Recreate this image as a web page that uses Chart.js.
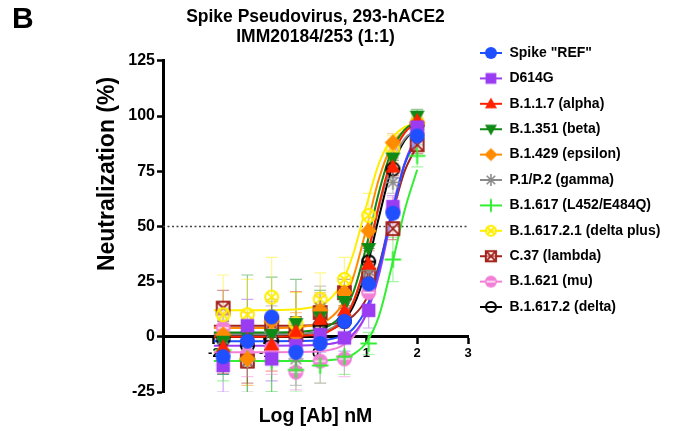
<!DOCTYPE html>
<html>
<head>
<meta charset="utf-8">
<script src="https://cdn.jsdelivr.net/npm/chart.js@4.4.1/dist/chart.umd.min.js"></script>
<style>
  html, body { margin: 0; padding: 0; background: #fff; }
</style>
</head>
<body>
<canvas id="chart" width="687" height="431"></canvas>
<script>
// Text
const panelLabel = "B";
const titleLines = ["Spike Pseudovirus, 293-hACE2", "IMM20184/253 (1:1)"];
const xTitle = "Log [Ab] nM";
const yTitle = "Neutralization (%)";

// Axes
const xRange = [-3, 3];
const yRange = [-25, 125];
const xTicks = [-2, -1, 0, 1, 2, 3];
const yTicks = [-25, 0, 25, 50, 75, 100, 125];
const halfMax = 50;

// 3-fold dilutions, log10 nM
const logDose = [-1.817, -1.340, -0.863, -0.385, 0.092, 0.569, 1.046, 1.523, 2.0];
const fitDose = [-2, -1, 0, 0.25, 0.5, 0.75, 1, 1.25, 1.5, 1.75, 2];

const seriesNames = ['Spike "REF"', "D614G", "B.1.1.7 (alpha)", "B.1.351 (beta)",
  "B.1.429 (epsilon)", "P.1/P.2 (gamma)", "B.1.617 (L452/E484Q)",
  "B.1.617.2.1 (delta plus)", "C.37 (lambda)", "B.1.621 (mu)", "B.1.617.2 (delta)"];

// mean neutralization (%)
const neutRef       = [-9, -2, 9, -7, -3, 7, 24, 56, 91];
const neutD614G     = [-13, 5, -10, -4, 1, -0.5, 12, 59, 95];
const neutAlpha     = [-4.5, -1, -3.5, 2.5, 8, 12, 33, 77, 98];
const neutBeta      = [-2, 0, 1, 6, 9, 16, 40, 81, 100];
const neutEpsilon   = [1, -10, 7, 1, 12, 20, 48, 88, 97];
const neutGamma     = [-1, -11, 2, -10, 13, 18, 30, 70, 94];
const neutL452      = [-6, -10, -11, -15, -13, -9, -3, 35, 82];
const neutDeltaPlus = [10, 10, 18, 6, 17, 26, 55, 85, 97];
const neutLambda    = [13, -11, 6, 1, 11, 20, 28, 49, 87];
const neutMu        = [4, -8, -5, -16, -11, -10, 20, 57, 92];
const neutDelta     = [-1, -4, -2, 1, 5, 7, 34, 76, 96];

// SD
const sdRef       = [8, 10, 8, 9, 8, 6, 5, 4, 4];
const sdD614G     = [12, 12, 10, 10, 8, 6, 8, 5, 4];
const sdAlpha     = [12, 12, 12, 18, 10, 8, 6, 4, 3];
const sdBeta      = [15, 28, 26, 20, 12, 10, 8, 5, 3];
const sdEpsilon   = [10, 12, 10, 10, 8, 6, 6, 4, 3];
const sdGamma     = [10, 14, 12, 12, 10, 8, 6, 5, 4];
const sdL452      = [14, 16, 14, 10, 8, 8, 5, 10, 5];
const sdDeltaPlus = [18, 16, 18, 14, 12, 10, 10, 6, 4];
const sdLambda    = [8, 10, 10, 8, 8, 6, 6, 5, 4];
const sdMu        = [10, 10, 12, 8, 10, 8, 8, 6, 4];
const sdDelta     = [8, 10, 10, 8, 8, 6, 6, 4, 3];

// fitted curves, read at fitDose
const fitRef       = [-2, -2, -1.7, -1.2, 0.2, 3.9, 13, 31, 56, 78, 89.7];
const fitD614G     = [-4, -4, -3.7, -3.3, -2, 1.5, 10.3, 28.2, 54.3, 78.3, 92];
const fitAlpha     = [0, 0, 0.9, 2.3, 6.4, 16, 35, 60, 81, 92.3, 97.1];
const fitBeta      = [2, 2, 3, 4.8, 9.5, 20.6, 41, 65.7, 84.3, 93.7, 97.7];
const fitEpsilon   = [4, 4, 5.4, 7.8, 13.8, 27.5, 49, 71.7, 86.7, 93.6, 96.4];
const fitGamma     = [1, 1, 1.8, 3.2, 7.1, 16.4, 34.6, 58.8, 78.8, 89.6, 94.2];
const fitL452      = [-11, -11, -10.9, -10.6, -9.9, -7.8, -2.6, 9.5, 32, 57, 75.7];
const fitDeltaPlus = [12, 12, 13.6, 16.5, 23.6, 38.1, 59.3, 78.7, 89.8, 95, 96.8];
const fitLambda    = [5, 5, 5.2, 5.6, 6.7, 9.7, 17.2, 32.4, 54.5, 74.8, 86.5];
const fitMu        = [-7, -7, -6.7, -6.1, -4.3, 0.2, 10.7, 31.5, 57.5, 78.3, 89.7];
const fitDelta     = [1, 1, 1.7, 2.8, 6, 14.1, 30.5, 54.4, 76.3, 88.8, 94.6];

const allNeut = [neutRef, neutD614G, neutAlpha, neutBeta, neutEpsilon, neutGamma,
  neutL452, neutDeltaPlus, neutLambda, neutMu, neutDelta];
const allSd = [sdRef, sdD614G, sdAlpha, sdBeta, sdEpsilon, sdGamma,
  sdL452, sdDeltaPlus, sdLambda, sdMu, sdDelta];
const allFit = [fitRef, fitD614G, fitAlpha, fitBeta, fitEpsilon, fitGamma,
  fitL452, fitDeltaPlus, fitLambda, fitMu, fitDelta];

// styles
const seriesColors = ["#1f4fff", "#9a3cf2", "#ff2200", "#0f8a14", "#ff8c00", "#8a8a8a",
  "#33ee33", "#ffee00", "#a3221b", "#f27fd6", "#000000"];
const seriesShapes = ["circle", "square", "triUp", "triDown", "diamond", "asterisk",
  "plus", "circleX", "squareX", "circleBar", "ringBar"];

const FONT = '"Liberation Sans", Arial, sans-serif';
const plotLeft = 163;
const plotRight = 468;

// **Marker drawing**
function drawShape(g, shape, color, cx, cy, r) {
  g.fillStyle = color;
  g.strokeStyle = color;
  g.lineWidth = 1.8;
  g.beginPath();
  if (shape === "circle") {
    g.arc(cx, cy, r, 0, 2 * Math.PI);
    g.fill();
  } else if (shape === "square") {
    const s = r * 0.9;
    g.fillRect(cx - s, cy - s, 2 * s, 2 * s);
  } else if (shape === "triUp") {
    g.moveTo(cx, cy - r * 1.05);
    g.lineTo(cx + r, cy + r * 0.75);
    g.lineTo(cx - r, cy + r * 0.75);
    g.closePath();
    g.fill();
  } else if (shape === "triDown") {
    g.moveTo(cx, cy + r * 1.05);
    g.lineTo(cx + r, cy - r * 0.75);
    g.lineTo(cx - r, cy - r * 0.75);
    g.closePath();
    g.fill();
  } else if (shape === "diamond") {
    const d = r * 1.1;
    g.moveTo(cx, cy - d);
    g.lineTo(cx + d, cy);
    g.lineTo(cx, cy + d);
    g.lineTo(cx - d, cy);
    g.closePath();
    g.fill();
  } else if (shape === "asterisk") {
    g.lineWidth = 1.6;
    for (let k = 0; k < 4; k++) {
      const a = k * Math.PI / 4;
      g.moveTo(cx - r * Math.cos(a), cy - r * Math.sin(a));
      g.lineTo(cx + r * Math.cos(a), cy + r * Math.sin(a));
    }
    g.stroke();
  } else if (shape === "plus") {
    g.lineWidth = 2;
    const d = r * 1.1;
    g.moveTo(cx - d, cy); g.lineTo(cx + d, cy);
    g.moveTo(cx, cy - d); g.lineTo(cx, cy + d);
    g.stroke();
  } else if (shape === "circleX") {
    g.fillStyle = "rgba(255,255,255,0.45)";
    g.arc(cx, cy, r - 1, 0, 2 * Math.PI);
    g.fill();
    g.lineWidth = 2;
    g.stroke();
    const d = (r - 1) * 0.7;
    g.beginPath();
    g.moveTo(cx - d, cy - d); g.lineTo(cx + d, cy + d);
    g.moveTo(cx + d, cy - d); g.lineTo(cx - d, cy + d);
    g.stroke();
  } else if (shape === "squareX") {
    const s = r * 0.85;
    g.fillStyle = "rgba(255,255,255,0.45)";
    g.fillRect(cx - s, cy - s, 2 * s, 2 * s);
    g.lineWidth = 2;
    g.strokeRect(cx - s, cy - s, 2 * s, 2 * s);
    g.moveTo(cx - s, cy - s); g.lineTo(cx + s, cy + s);
    g.moveTo(cx + s, cy - s); g.lineTo(cx - s, cy + s);
    g.stroke();
  } else if (shape === "circleBar") {
    g.arc(cx, cy, r, 0, 2 * Math.PI);
    g.fill();
    g.beginPath();
    g.strokeStyle = "rgba(255,255,255,0.9)";
    g.lineWidth = 1.5;
    g.moveTo(cx - r * 0.75, cy); g.lineTo(cx + r * 0.75, cy);
    g.stroke();
  } else if (shape === "ringBar") {
    g.lineWidth = 2;
    g.arc(cx, cy, r - 1, 0, 2 * Math.PI);
    g.stroke();
    g.beginPath();
    g.moveTo(cx - r, cy); g.lineTo(cx + r, cy);
    g.stroke();
  }
}

function makeIcon(shape, color, r, lineLen) {
  const h = Math.ceil(2 * r + 4);
  const w = Math.max(lineLen || 0, h);
  const c = document.createElement("canvas");
  c.width = w;
  c.height = h;
  const g = c.getContext("2d");
  if (lineLen) {
    g.strokeStyle = color;
    g.lineWidth = 2;
    g.beginPath();
    g.moveTo(0, h / 2);
    g.lineTo(w, h / 2);
    g.stroke();
  }
  drawShape(g, shape, color, w / 2, h / 2, r);
  return c;
}

const pointIcons = seriesShapes.map((s, i) => makeIcon(s, seriesColors[i], 7.5, 0));
const legendIcons = seriesShapes.map((s, i) => makeIcon(s, seriesColors[i], 6, 22));

// **Error bars, drawn under the markers**
const errorBars = {
  id: "errorBars",
  beforeDatasetsDraw(chart) {
    const { ctx, chartArea, scales } = chart;
    ctx.save();
    ctx.beginPath();
    ctx.rect(chartArea.left, chartArea.top, chartArea.width, chartArea.height);
    ctx.clip();
    ctx.lineWidth = 1.2;
    ctx.globalAlpha = 0.45;
    allNeut.forEach((vals, i) => {
      ctx.strokeStyle = seriesColors[i];
      vals.forEach((v, j) => {
        const px = scales.x.getPixelForValue(logDose[j]);
        const top = scales.y.getPixelForValue(v + allSd[i][j]);
        const bot = scales.y.getPixelForValue(v - allSd[i][j]);
        ctx.beginPath();
        ctx.moveTo(px, top); ctx.lineTo(px, bot);
        ctx.moveTo(px - 6, top); ctx.lineTo(px + 6, top);
        ctx.moveTo(px - 6, bot); ctx.lineTo(px + 6, bot);
        ctx.stroke();
      });
    });
    ctx.restore();
  },
};

// **Panel letter and y title**
const extraText = {
  id: "extraText",
  afterDraw(chart) {
    const ctx = chart.ctx;
    ctx.save();
    ctx.fillStyle = "#000";
    ctx.font = "bold 30px " + FONT;
    ctx.textAlign = "left";
    ctx.textBaseline = "alphabetic";
    ctx.fillText(panelLabel, 12, 28);
    ctx.translate(108, 174);
    ctx.rotate(-Math.PI / 2);
    ctx.font = "bold 23px " + FONT;
    ctx.textAlign = "center";
    ctx.textBaseline = "middle";
    ctx.fillText(yTitle, 0, 0);
    ctx.restore();
  },
};

// **Datasets**
const datasets = [];
allNeut.forEach((vals, i) => {
  datasets.push({
    label: seriesNames[i],
    data: vals.map((v, j) => ({ x: logDose[j], y: v })),
    showLine: false,
    pointStyle: pointIcons[i],
    pointRadius: 8,
    borderColor: seriesColors[i],
    backgroundColor: seriesColors[i],
    order: 0,
  });
  datasets.push({
    label: seriesNames[i] + " fit",
    data: allFit[i].map((v, j) => ({ x: fitDose[j], y: v })),
    borderColor: seriesColors[i],
    borderWidth: 2,
    pointRadius: 0,
    cubicInterpolationMode: "monotone",
    order: 1,
  });
});
datasets.push({
  label: "50%",
  data: xRange.map((x) => ({ x: x, y: halfMax })),
  borderColor: "#444",
  borderWidth: 1.5,
  borderDash: [2, 2.5],
  pointRadius: 0,
  order: 2,
});

// legend sizing so the plot ends at plotRight
const legendPad = 11.4;
const legendBox = 23;
const legendFontSize = 14;
const mctx = document.createElement("canvas").getContext("2d");
mctx.font = "bold " + legendFontSize + "px " + FONT;
const maxLabel = Math.max(...seriesNames.map((n) => mctx.measureText(n).width));
const legendWidth = legendPad + legendBox + legendFontSize / 2 + maxLabel + 10;
const padRight = 687 - plotRight - legendWidth;

const tickFont = { family: FONT, weight: "bold" };

new Chart(document.getElementById("chart"), {
  type: "line",
  data: { datasets: datasets },
  options: {
    responsive: false,
    devicePixelRatio: 1,
    animation: false,
    layout: { padding: { left: 0, right: padRight, top: 0, bottom: 0 } },
    scales: {
      x: {
        type: "linear",
        min: xRange[0],
        max: xRange[1],
        position: { y: 0 },
        afterBuildTicks: (s) => { s.ticks = xTicks.map((v) => ({ value: v })); },
        grid: { drawOnChartArea: false, drawTicks: true, tickLength: 6, tickColor: "#000", tickWidth: 2.5 },
        border: { display: true, color: "#000", width: 3 },
        ticks: { font: { ...tickFont, size: 13 }, color: "#000", padding: 3, maxRotation: 0, autoSkip: false },
      },
      y: {
        type: "linear",
        min: yRange[0],
        max: yRange[1],
        afterBuildTicks: (s) => { s.ticks = yTicks.map((v) => ({ value: v })); },
        afterFit: (s) => { s.width = plotLeft; },
        grid: { drawOnChartArea: false, drawTicks: true, tickLength: 6, tickColor: "#000", tickWidth: 2.5 },
        border: { display: true, color: "#000", width: 3 },
        ticks: { font: { ...tickFont, size: 16 }, color: "#000", padding: 2 },
      },
    },
    plugins: {
      title: {
        display: true,
        text: titleLines,
        fullSize: false,
        color: "#000",
        font: { family: FONT, size: 17.5, weight: "bold", lineHeight: 1.14 },
        padding: { top: 7, bottom: 14 },
      },
      subtitle: {
        display: true,
        text: xTitle,
        position: "bottom",
        fullSize: false,
        color: "#000",
        font: { family: FONT, size: 19.5, weight: "bold", lineHeight: 1.2 },
        padding: { top: 13, bottom: 2.6 },
      },
      legend: {
        position: "right",
        align: "start",
        maxWidth: 400,
        title: { display: true, text: " ", font: { size: 10, lineHeight: 1.2 }, padding: { top: 22.6, bottom: 0 } },
        labels: {
          usePointStyle: true,
          pointStyleWidth: legendBox,
          padding: legendPad,
          color: "#000",
          font: { family: FONT, size: legendFontSize, weight: "bold" },
          generateLabels: () => seriesNames.map((n, i) => ({
            text: n,
            fontColor: "#000",
            pointStyle: legendIcons[i],
            fillStyle: seriesColors[i],
            strokeStyle: seriesColors[i],
            lineWidth: 0,
            hidden: false,
            datasetIndex: i * 2,
          })),
        },
        onClick: () => {},
      },
      tooltip: { enabled: false },
    },
  },
  plugins: [errorBars, extraText],
});
</script>
</body>
</html>
